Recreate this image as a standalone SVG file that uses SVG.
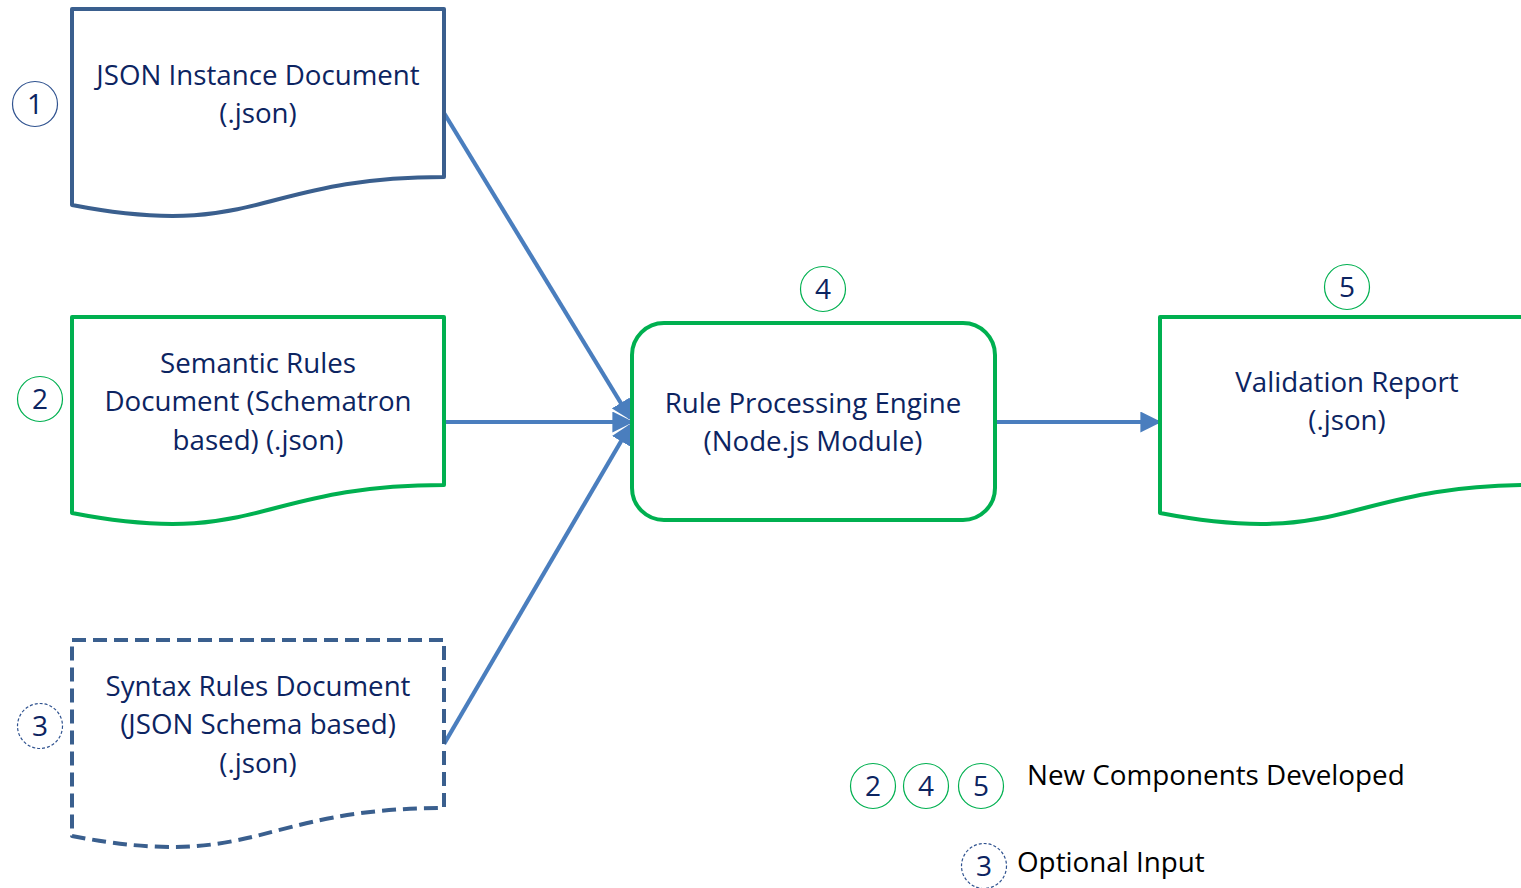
<svg xmlns="http://www.w3.org/2000/svg" width="1521" height="888" viewBox="0 0 1521 888">
<style>
.lbl{font-family:"Open Sans","Liberation Sans",sans-serif;font-size:27.7px;fill:#0C2461;text-anchor:middle}
.num{font-family:"Open Sans","Liberation Sans",sans-serif;font-size:28px;fill:#0C2461;text-anchor:middle}
.leg{font-family:"Open Sans","Liberation Sans",sans-serif;font-size:27.8px;fill:#000}
.blue{fill:#fff;stroke:#3A5F8E;stroke-width:4;stroke-linejoin:round}
.green{fill:#fff;stroke:#00B050;stroke-width:4;stroke-linejoin:round}
.dash{stroke-dasharray:14 7}
.cb{fill:#fff;stroke:#2F528F;stroke-width:1.2}
.cg{fill:#fff;stroke:#00B050;stroke-width:1.2}
.cd{fill:#fff;stroke:#2F528F;stroke-width:1.2;stroke-dasharray:3 2}
.conn{stroke:#4A7EBE;stroke-width:4.2;fill:none}
</style>
<defs>
<marker id="ah" markerWidth="5" markerHeight="5" refX="4.2" refY="2.5" orient="auto" markerUnits="strokeWidth">
<path d="M0,0 L5,2.5 L0,5 Z" fill="#4A7EBE"/>
</marker>
</defs>
<g id="connectors">
<line class="conn" x1="444" y1="113" x2="630" y2="418" marker-end="url(#ah)"/>
<line class="conn" x1="444" y1="422" x2="630" y2="422" marker-end="url(#ah)"/>
<line class="conn" x1="444" y1="744" x2="630" y2="426" marker-end="url(#ah)"/>
<line class="conn" x1="997" y1="422" x2="1158" y2="422" marker-end="url(#ah)"/>
</g>
<g id="doc1">
<path class="blue" d="M72,9 H444 V177 C258,177 258,241 72,205 Z"/>
<text class="lbl" x="258" y="85">JSON Instance Document</text>
<text class="lbl" x="258" y="123">(.json)</text>
</g>
<g id="doc2">
<path class="green" d="M72,317 H444 V485 C258,485 258,549 72,513 Z"/>
<text class="lbl" x="258" y="373">Semantic Rules</text>
<text class="lbl" x="258" y="411">Document (Schematron</text>
<text class="lbl" x="258" y="450">based) (.json)</text>
</g>
<g id="doc3">
<path class="blue dash" d="M72,640 H444 V808 C258,808 258,872 72,836 Z"/>
<text class="lbl" x="258" y="696">Syntax Rules Document</text>
<text class="lbl" x="258" y="734">(JSON Schema based)</text>
<text class="lbl" x="258" y="773">(.json)</text>
</g>
<g id="engine">
<rect class="green" x="632" y="323" width="363" height="197" rx="32"/>
<text class="lbl" x="813" y="413">Rule Processing Engine</text>
<text class="lbl" x="813" y="451">(Node.js Module)</text>
</g>
<g id="report">
<path class="green" d="M1160,317 H1534 V485 C1347,485 1347,549 1160,513 Z"/>
<text class="lbl" x="1347" y="392">Validation Report</text>
<text class="lbl" x="1347" y="430">(.json)</text>
</g>
<g id="badge1"><circle class="cb" cx="35" cy="104" r="22.5"/><text class="num" x="35" y="114">1</text></g>
<g id="badge2"><circle class="cg" cx="40" cy="399" r="22.5"/><text class="num" x="40" y="409">2</text></g>
<g id="badge3"><circle class="cd" cx="40" cy="726" r="22.5"/><text class="num" x="40" y="736">3</text></g>
<g id="badge4"><circle class="cg" cx="823" cy="289" r="22.5"/><text class="num" x="823" y="299">4</text></g>
<g id="badge5"><circle class="cg" cx="1347" cy="287" r="22.5"/><text class="num" x="1347" y="297">5</text></g>
<g id="legend">
<circle class="cg" cx="873" cy="786" r="22.5"/><text class="num" x="873" y="796">2</text>
<circle class="cg" cx="926" cy="786" r="22.5"/><text class="num" x="926" y="796">4</text>
<circle class="cg" cx="981" cy="786" r="22.5"/><text class="num" x="981" y="796">5</text>
<text class="leg" x="1027" y="785">New Components Developed</text>
<circle class="cd" cx="984" cy="866" r="22.5"/><text class="num" x="984" y="876">3</text>
<text class="leg" x="1017" y="872">Optional Input</text>
</g>
</svg>
